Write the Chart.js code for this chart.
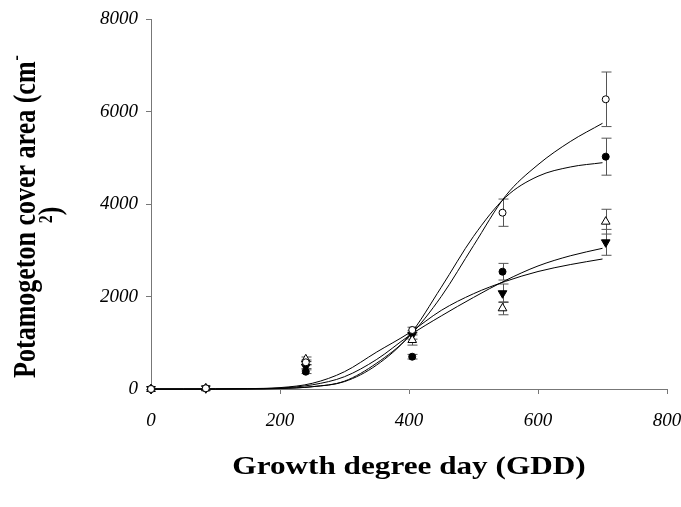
<!DOCTYPE html>
<html>
<head>
<meta charset="utf-8">
<script src="https://cdn.jsdelivr.net/npm/chart.js@4.4.1/dist/chart.umd.min.js"></script>
<style>
  html, body { margin: 0; padding: 0; background: #fff; }
  #wrap { width: 681px; height: 507px; }
</style>
</head>
<body>
<div id="wrap"><canvas id="chart"></canvas></div>
<script>
const serif = "'Liberation Serif', 'Times New Roman', serif";

// measured points (GDD) and their standard errors
const gdd = [0, 85, 240, 405, 545, 705];
const openCircle = [0, 15, 577, 1276, 3812, 6264];
const openCircleErr = [0, 0, 50, 60, 295, 590];
const filledCircle = [0, 15, 374, 698, 2536, 5023];
const filledCircleErr = [0, 0, 40, 50, 180, 400];
const openTriangle = [0, 15, 642, 1059, 1745, 3618];
const openTriangleErr = [0, 0, 50, 110, 140, 268];
const filledTriangle = [0, 15, 482, 1168, 2070, 3171];
const filledTriangleErr = [0, 0, 40, 90, 200, 280];

// fitted curves
const curveX = [0, 50, 100, 150, 200, 250, 300, 350, 400, 450, 500, 550, 600, 650, 700];
const fitOpenCircle = [0, 0, 0, 2, 10, 50, 170, 560, 1130, 2000, 3100, 4180, 4850, 5350, 5745];
const fitFilledCircle = [0, 0, 0, 3, 12, 50, 160, 520, 1150, 2200, 3300, 4150, 4600, 4800, 4893];
const fitOpenTriangle = [0, 0, 1, 5, 20, 90, 266, 640, 1150, 1580, 1980, 2350, 2660, 2880, 3042];
const fitFilledTriangle = [0, 0, 2, 8, 30, 123, 374, 800, 1210, 1700, 2060, 2330, 2540, 2690, 2811];

const xTicks = [0, 200, 400, 600, 800];
const yTicks = [0, 2000, 4000, 6000, 8000];

const series = [
  { values: openCircle, err: openCircleErr, style: 'circle', fill: '#fff', radius: 3.5, rotation: 0 },
  { values: filledCircle, err: filledCircleErr, style: 'circle', fill: '#000', radius: 3.5, rotation: 0 },
  { values: openTriangle, err: openTriangleErr, style: 'triangle', fill: '#fff', radius: 5, rotation: 0 },
  { values: filledTriangle, err: filledTriangleErr, style: 'triangle', fill: '#000', radius: 5, rotation: 180 }
];
const fits = [fitOpenCircle, fitFilledCircle, fitOpenTriangle, fitFilledTriangle];

const toPoints = (xs, ys) => xs.map((v, i) => ({ x: v, y: ys[i] }));

const datasets = [];
series.forEach(s => {
  datasets.push({
    type: 'scatter',
    data: toPoints(gdd, s.values),
    pointStyle: s.style,
    pointRotation: s.rotation,
    pointRadius: s.radius,
    pointBackgroundColor: s.fill,
    pointBorderColor: '#000',
    pointBorderWidth: 1,
    clip: false
  });
});
fits.forEach(f => {
  datasets.push({
    type: 'line',
    data: toPoints(curveX, f),
    borderColor: '#000',
    borderWidth: 1,
    pointRadius: 0,
    fill: false,
    cubicInterpolationMode: 'monotone',
    clip: false
  });
});

const errorBars = {
  id: 'errorBars',
  beforeDatasetsDraw(chart) {
    const { ctx, scales: { x, y } } = chart;
    ctx.save();
    ctx.strokeStyle = '#555';
    ctx.lineWidth = 1;
    series.forEach(s => {
      gdd.forEach((g, i) => {
        const e = s.err[i];
        if (!e) return;
        const px = Math.round(x.getPixelForValue(g)) + 0.5;
        const top = y.getPixelForValue(s.values[i] + e);
        const bot = y.getPixelForValue(s.values[i] - e);
        ctx.beginPath();
        ctx.moveTo(px, top);
        ctx.lineTo(px, bot);
        ctx.moveTo(px - 5, top);
        ctx.lineTo(px + 5, top);
        ctx.moveTo(px - 5, bot);
        ctx.lineTo(px + 5, bot);
        ctx.stroke();
      });
    });
    ctx.restore();
  }
};

// the original figure is a little stretched sideways, so titles are too
const stretch = 1.2;

const axisTitles = {
  id: 'axisTitles',
  afterDraw(chart) {
    const { ctx, chartArea } = chart;
    ctx.save();
    ctx.fillStyle = '#000';
    ctx.textBaseline = 'middle';

    // x title
    ctx.save();
    ctx.translate((chartArea.left + chartArea.right) / 2, 467);
    ctx.scale(stretch, 1);
    ctx.font = `bold 26px ${serif}`;
    ctx.textAlign = 'center';
    ctx.fillText('Growth degree day (GDD)', 0, 0);
    ctx.restore();

    // y title, two lines, rotated
    ctx.translate(27, 217);
    ctx.rotate(-Math.PI / 2);
    ctx.scale(1, stretch);
    ctx.textAlign = 'left';
    const main = 'Potamogeton cover area (cm';
    ctx.font = `bold 26px ${serif}`;
    const w1 = ctx.measureText(main).width;
    ctx.font = `bold 16px ${serif}`;
    const w2 = ctx.measureText('-').width;
    let start = -(w1 + w2) / 2;
    ctx.font = `bold 26px ${serif}`;
    ctx.fillText(main, start, 0);
    ctx.font = `bold 16px ${serif}`;
    ctx.fillText('-', start + w1 + 1, -8);

    const w3 = ctx.measureText('2').width;
    ctx.font = `bold 26px ${serif}`;
    const w4 = ctx.measureText(')').width;
    start = 2 - (w3 + w4) / 2;
    const line2 = 25 / stretch;
    ctx.font = `bold 16px ${serif}`;
    ctx.fillText('2', start, line2 - 4);
    ctx.font = `bold 26px ${serif}`;
    ctx.fillText(')', start + w3, line2);
    ctx.restore();
  }
};

new Chart(document.getElementById('chart'), {
  type: 'scatter',
  data: { datasets },
  plugins: [errorBars, axisTitles],
  options: {
    responsive: true,
    maintainAspectRatio: false,
    animation: false,
    layout: { padding: { top: 19, right: 14, left: 0, bottom: 0 } },
    plugins: { legend: { display: false }, tooltip: { enabled: false } },
    scales: {
      x: {
        type: 'linear',
        min: 0,
        max: 800,
        afterBuildTicks: s => { s.ticks = xTicks.map(v => ({ value: v })); },
        afterFit: s => { s.height = 118; s.paddingRight = 0; s.paddingLeft = 0; },
        ticks: { color: '#000', padding: 16, font: { family: serif, size: 19, style: 'italic' }, callback: v => String(v) },
        grid: { drawOnChartArea: false, drawTicks: true, tickLength: 5, color: '#777' },
        border: { color: '#777' }
      },
      y: {
        type: 'linear',
        min: 0,
        max: 8000,
        afterBuildTicks: s => { s.ticks = yTicks.map(v => ({ value: v })); },
        afterFit: s => { s.width = 151; s.paddingTop = 0; s.paddingBottom = 0; },
        ticks: { color: '#000', padding: 8, font: { family: serif, size: 19, style: 'italic' }, callback: v => String(v) },
        grid: { drawOnChartArea: false, drawTicks: true, tickLength: 5, color: '#777' },
        border: { color: '#777' }
      }
    }
  }
});
</script>
</body>
</html>
